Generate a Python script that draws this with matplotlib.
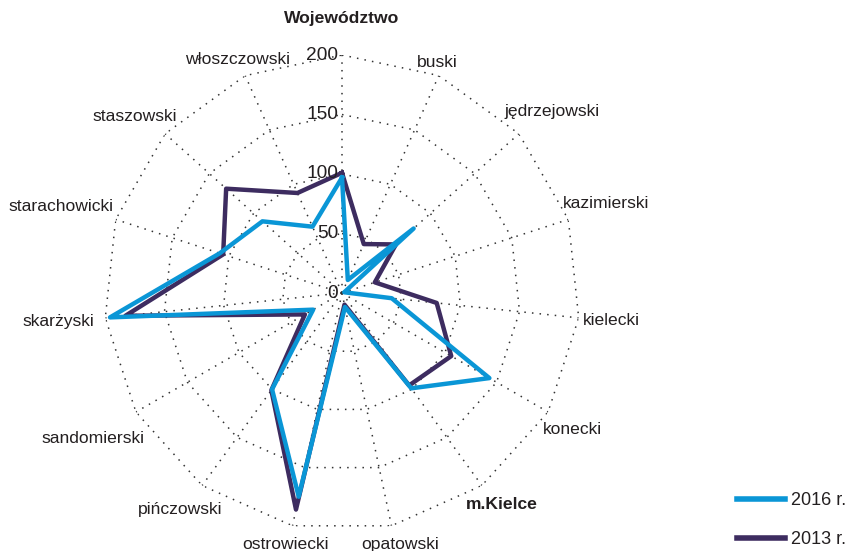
import numpy as np
import matplotlib
matplotlib.use('Agg')
import matplotlib.pyplot as plt
from matplotlib.lines import Line2D

plt.rcParams['font.family'] = ['Liberation Sans', 'DejaVu Sans']

# ── Data ──────────────────────────────────────────────────────────────────────
categories = ['Województwo', 'buski', 'jędrzejowski', 'kazimierski', 'kielecki',
              'konecki', 'm.Kielce', 'opatowski', 'ostrowiecki', 'pińczowski',
              'sandomierski', 'skarżyski', 'starachowicki', 'staszowski',
              'włoszczowski']
values_2016 = [97, 12, 81, 2, 42, 143, 99, 12, 175, 100, 28, 196, 108, 90, 61]
values_2013 = [101, 45, 61, 29, 80, 106, 96, 10, 186, 101, 36, 183, 105, 131, 92]
r_ticks = [0, 50, 100, 150, 200]
bold_labels = ['Województwo', 'm.Kielce']

# label offsets (pixels) from the outer ring point, with alignment
label_pos = {
    'Województwo':   ((0, 36), 'center'),
    'buski':         ((-2, 13), 'center'),
    'jędrzejowski':  ((-14, 22), 'left'),
    'kazimierski':   ((-5, 16), 'left'),
    'kielecki':      ((4, -3), 'left'),
    'konecki':       ((-5, -18), 'left'),
    'm.Kielce':      ((20, -19), 'center'),
    'opatowski':     ((9, -19), 'center'),
    'ostrowiecki':   ((-7, -19), 'center'),
    'pińczowski':    ((-22, -24), 'center'),
    'sandomierski':  ((9, -26), 'right'),
    'skarżyski':     ((-11, -4), 'right'),
    'starachowicki': ((-2, 13), 'right'),
    'staszowski':    ((12, 17), 'right'),
    'włoszczowski':  ((-8, 16), 'center'),
}

c2016 = '#0a96d6'
c2013 = '#3d2c60'
txt = '#231f20'

n = len(categories)
theta = np.arange(n) * 2 * np.pi / n
theta_c = np.append(theta, theta[0])

fig = plt.figure(figsize=(8.51, 5.51), dpi=100)
W, H = 851, 551
cx, cy, R = 342, 293, 238
ax = fig.add_axes([(cx - R) / W, (H - cy - R) / H, 2 * R / W, 2 * R / H],
                  projection='polar')
ax.set_theta_zero_location('N')
ax.set_theta_direction(-1)
ax.set_ylim(0, 200)
ax.grid(False)
ax.spines['polar'].set_visible(False)
ax.set_xticks([])
ax.set_yticks([])
ax.patch.set_alpha(0)

# polygon grid
dots = (0, (1, 4))
for r in r_ticks[1:]:
    ax.plot(theta_c, [r] * (n + 1), color='#333333', lw=1.1, ls=dots, zorder=1)
for t in theta:
    ax.plot([t, t], [0, 200], color='#333333', lw=1.1, ls=dots, zorder=1)

# data
ax.plot(theta_c, values_2013 + values_2013[:1], color=c2013, lw=3.2, zorder=3)
ax.plot(theta_c, values_2016 + values_2016[:1], color=c2016, lw=3.2, zorder=4)

# radial tick labels
for r in r_ticks:
    ax.annotate(str(r), xy=(0, r), xytext=(-4, 0), textcoords='offset pixels',
                ha='right', va='center', fontsize=13.8, color=txt, zorder=5)

# category labels
for t, name in zip(theta, categories):
    (dx, dy), ha = label_pos[name]
    ax.annotate(name, xy=(t, 200), xytext=(dx, dy), textcoords='offset pixels',
                ha=ha, va='center', fontsize=12.6, color=txt,
                fontweight='bold' if name in bold_labels else 'normal',
                annotation_clip=False)

handles = [Line2D([], [], color=c2016, lw=4),
           Line2D([], [], color=c2013, lw=4)]
fig.legend(handles, ['2016 r.', '2013 r.'], loc='center left',
           bbox_to_anchor=(737 / W, 1 - 520 / H), frameon=False, fontsize=13,
           handlelength=2.65, handletextpad=0.33, labelspacing=1.2,
           borderpad=0, borderaxespad=0, labelcolor=txt)

fig.savefig('out.png', dpi=100)
